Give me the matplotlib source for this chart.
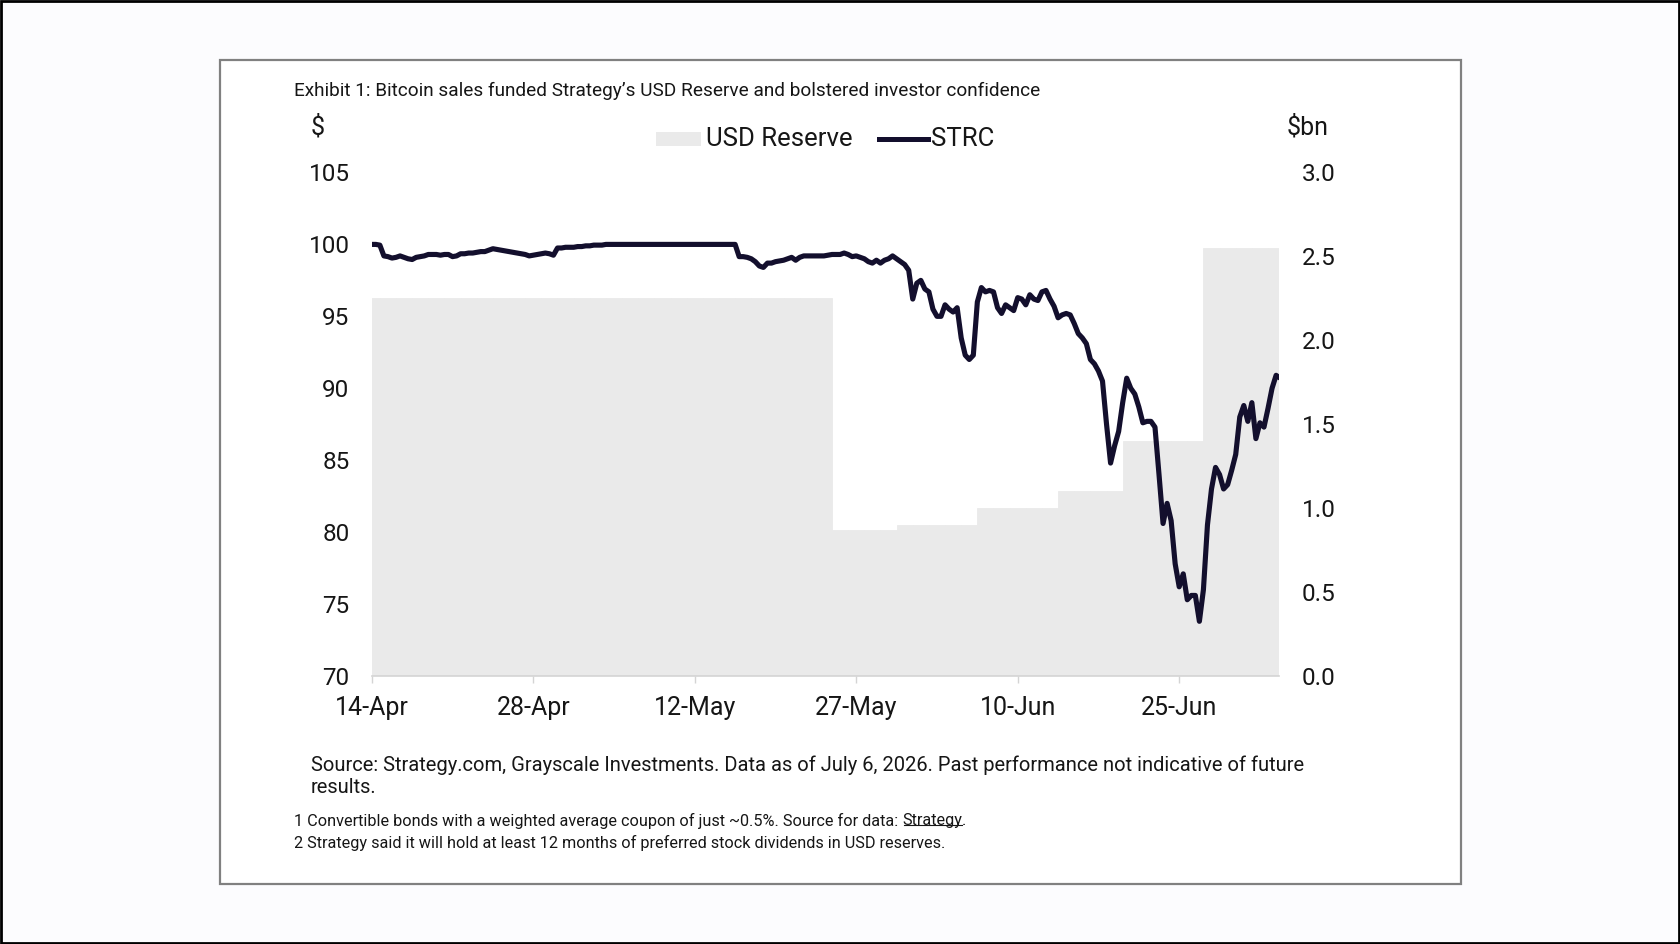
import numpy as np
import matplotlib
matplotlib.use("Agg")
import matplotlib.pyplot as plt
from matplotlib.patches import Rectangle
from matplotlib.lines import Line2D

plt.rcParams['font.family'] = ['Roboto', 'DejaVu Sans']

# x axis is in trading days from 14-Apr; ticks every 10 trading days
tick_labels = ['14-Apr', '28-Apr', '12-May', '27-May', '10-Jun', '25-Jun']
tick_days = [0, 10, 20, 30, 40, 50]

# USD Reserve ($bn), one value per trading day
usd_reserve = ([2.25] * 29 + [0.87] * 4 + [0.90] * 5 + [1.00] * 5
               + [1.10] * 4 + [1.40] * 5 + [2.55] * 5)

# STRC price ($), four readings per trading day
strc = [
    100.0, 100.0, 99.95, 99.2,    # 0
    99.15, 99.05, 99.1, 99.2,
    99.1, 99.0, 98.95, 99.1,
    99.15, 99.2, 99.3, 99.3,
    99.3, 99.25, 99.3, 99.3,
    99.15, 99.2, 99.35, 99.35,    # 5
    99.4, 99.4, 99.45, 99.5,
    99.5, 99.6, 99.7, 99.65,
    99.6, 99.55, 99.5, 99.45,
    99.4, 99.35, 99.3, 99.2,
    99.25, 99.3, 99.35, 99.4,     # 10
    99.35, 99.25, 99.75, 99.75,
    99.8, 99.8, 99.8, 99.85,
    99.85, 99.9, 99.9, 99.95,
    99.95, 99.95, 100.0, 100.0,
    100.0, 100.0, 100.0, 100.0,   # 15
    100.0, 100.0, 100.0, 100.0,
    100.0, 100.0, 100.0, 100.0,
    100.0, 100.0, 100.0, 100.0,
    100.0, 100.0, 100.0, 100.0,
    100.0, 100.0, 100.0, 100.0,   # 20
    100.0, 100.0, 100.0, 100.0,
    100.0, 100.0, 100.0, 99.15,
    99.15, 99.1, 99.0, 98.8,
    98.5, 98.4, 98.7, 98.7,
    98.8, 98.85, 98.9, 99.0,      # 25
    99.1, 98.9, 99.1, 99.2,
    99.2, 99.2, 99.2, 99.2,
    99.2, 99.25, 99.3, 99.3,
    99.3, 99.4, 99.3, 99.15,
    99.2, 99.1, 99.0, 98.8,       # 30
    98.7, 98.9, 98.7, 98.9,
    99.0, 99.2, 99.0, 98.8,
    98.6, 98.2, 96.2, 97.3,
    97.5, 96.9, 96.7, 95.5,
    95.0, 95.0, 95.8, 95.5,       # 35
    95.3, 95.6, 93.5, 92.3,
    92.0, 92.3, 96.0, 97.0,
    96.7, 96.8, 96.7, 95.6,
    95.2, 95.8, 95.6, 95.4,
    96.3, 96.2, 95.8, 96.5,       # 40
    96.2, 96.1, 96.7, 96.8,
    96.2, 95.7, 94.9, 95.1,
    95.2, 95.1, 94.5, 93.8,
    93.5, 93.1, 92.0, 91.7,
    91.2, 90.5, 87.5, 84.8,       # 45
    86.0, 87.0, 89.0, 90.7,
    90.0, 89.6, 88.7, 87.6,
    87.7, 87.7, 87.3, 84.0,
    80.6, 82.0, 80.8, 77.8,
    76.2, 77.1, 75.3, 75.6,       # 50
    75.6, 73.8, 76.0, 80.5,
    83.0, 84.5, 84.0, 83.0,
    83.3, 84.3, 85.4, 88.0,
    88.8, 87.7, 89.0, 86.5,
    87.6, 87.3, 88.6, 90.0,       # 55
    90.9, 90.7,
]

LINE_C = '#130F2D'
FILL_C = '#EAEAEA'
TXT_C = '#161616'

fig = plt.figure(figsize=(16.8, 9.44), dpi=100, facecolor='#FCFCFE')

# outer frame and inner white card (behind the axes)
fig.patches.append(Rectangle((0.0006, 0.001), 0.9988, 0.998, transform=fig.transFigure,
                             fill=False, edgecolor='black', linewidth=2, zorder=-2))
fig.patches.append(Rectangle((0.1307, 0.0636), 0.739, 0.873, transform=fig.transFigure,
                             facecolor='white', edgecolor='#808080', linewidth=1.6, zorder=-1))

ax = fig.add_axes([0.2213, 0.2839, 0.5402, 0.5334])
ax2 = ax.twinx()
ax.set_zorder(ax2.get_zorder() + 1)
ax.patch.set_visible(False)
ax2.patch.set_visible(False)

days = np.arange(len(usd_reserve))
ax2.bar(days, usd_reserve, width=1.0, color=FILL_C, edgecolor=FILL_C, linewidth=0.6)

t = np.arange(len(strc)) / 4.0
ax.plot(t, strc, color=LINE_C, linewidth=3.7, solid_joinstyle='round', solid_capstyle='butt')

ax.set_xlim(0, 56.2)
ax.set_ylim(70, 105)
ax2.set_ylim(0, 3.0)
ax.set_yticks(np.arange(70, 106, 5))
ax2.set_yticks(np.arange(0, 3.01, 0.5))
ax2.set_yticklabels([f"{v:.1f}" for v in np.arange(0, 3.01, 0.5)])
ax.set_xticks(tick_days)
ax.set_xticklabels(tick_labels)

for a in (ax, ax2):
    for s in ('top', 'left', 'right', 'bottom'):
        a.spines[s].set_visible(False)
ax.spines['bottom'].set_visible(True)
ax.spines['bottom'].set_color('#D4D4D4')
ax.spines['bottom'].set_linewidth(1.2)

ax.tick_params(axis='y', length=0, pad=16, labelsize=17.5, labelcolor=TXT_C)
ax2.tick_params(axis='y', length=0, pad=16, labelsize=17.5, labelcolor=TXT_C)
ax.tick_params(axis='x', length=5, width=1, color='#D4D4D4', pad=9.5,
               labelsize=18, labelcolor=TXT_C)

# header texts
fig.text(0.1748, 0.9035, "Exhibit 1: Bitcoin sales funded Strategy\u2019s USD Reserve and bolstered investor confidence",
         fontsize=13.7, color=TXT_C, va='center', ha='left')
fig.text(0.1893, 0.8650, "$", fontsize=18, color=TXT_C, va='center', ha='center')
fig.text(0.766, 0.8650, "$bn", fontsize=18, color=TXT_C, va='center', ha='left')

# legend drawn by hand
ly = 1 - 139 / 944
fig.patches.append(Rectangle((656 / 1680, ly - 7 / 944), 45 / 1680, 14 / 944,
                             transform=fig.transFigure, facecolor=FILL_C, edgecolor='none'))
fig.text(706 / 1680, ly, "USD Reserve", fontsize=18.5, color=TXT_C, va='center', ha='left')
fig.lines.append(Line2D([879 / 1680, 928 / 1680], [ly, ly], transform=fig.transFigure,
                        color=LINE_C, linewidth=3.6))
fig.text(931 / 1680, ly, "STRC", fontsize=18.5, color=TXT_C, va='center', ha='left')

# source and footnotes
fig.text(0.1849, 0.1998,
         "Source: Strategy.com, Grayscale Investments. Data as of July 6, 2026. Past performance not indicative of future\nresults.",
         fontsize=14.5, color=TXT_C, va='top', ha='left', linespacing=1.2)
f1 = fig.text(0.1748, 0.1303, "1 Convertible bonds with a weighted average coupon of just ~0.5%. Source for data:",
              fontsize=11.7, color=TXT_C, va='center', ha='left')
f2 = fig.text(0.1748, 0.1070, "2 Strategy said it will hold at least 12 months of preferred stock dividends in USD reserves.",
              fontsize=11.7, color=TXT_C, va='center', ha='left')

fig.canvas.draw()
inv = fig.transFigure.inverted()
bb = f1.get_window_extent()
x_link = inv.transform((bb.x1 + 5, 0))[0]
link = fig.text(x_link, 0.1303, "Strategy", fontsize=11.7, color=TXT_C, va='center', ha='left')
fig.canvas.draw()
lb = link.get_window_extent()
fig.text(inv.transform((lb.x1 - 1, 0))[0], 0.1303, ".", fontsize=11.7, color=TXT_C, va='center', ha='left')
(ux0, uy), (ux1, _) = inv.transform([(lb.x0 + 1, lb.y0 + 3), (lb.x1 - 1, lb.y0 + 3)])
fig.lines.append(Line2D([ux0, ux1], [uy, uy], transform=fig.transFigure, color=TXT_C, linewidth=0.8))

fig.savefig('out.png', dpi=100, facecolor=fig.get_facecolor())
